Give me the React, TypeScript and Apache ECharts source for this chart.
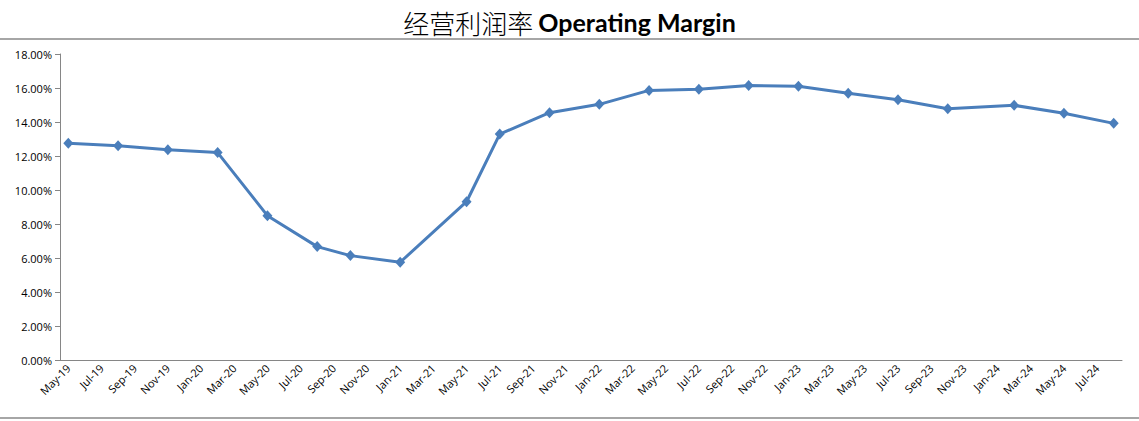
import React, { useEffect, useRef } from "react";
import * as echarts from "echarts";

const tickLabels = [
  "May-19", "Jul-19", "Sep-19", "Nov-19", "Jan-20", "Mar-20", "May-20", "Jul-20",
  "Sep-20", "Nov-20", "Jan-21", "Mar-21", "May-21", "Jul-21", "Sep-21", "Nov-21",
  "Jan-22", "Mar-22", "May-22", "Jul-22", "Sep-22", "Nov-22", "Jan-23", "Mar-23",
  "May-23", "Jul-23", "Sep-23", "Nov-23", "Jan-24", "Mar-24", "May-24", "Jul-24",
];

const pointDates = [
  "2019-05", "2019-08", "2019-11", "2020-02", "2020-05", "2020-08", "2020-10", "2021-01",
  "2021-05", "2021-07", "2021-10", "2022-01", "2022-04", "2022-07", "2022-10", "2023-01",
  "2023-04", "2023-07", "2023-10", "2024-02", "2024-05", "2024-08",
];

const marginValues = [
  12.75, 12.6, 12.37, 12.2, 8.49, 6.67, 6.14, 5.75,
  9.31, 13.29, 14.55, 15.04, 15.86, 15.92, 16.14, 16.1,
  15.69, 15.31, 14.78, 14.98, 14.51, 13.92,
];

const yTicks = { min: 0, max: 18, interval: 2 };

export default function App() {
  const ref = useRef<HTMLDivElement>(null);
  useEffect(() => {
    if (!ref.current) return;
    const chart = echarts.init(ref.current, null, { renderer: "svg" });
    // monthly slots, two per tick label
    const categories: string[] = [];
    tickLabels.forEach((l) => {
      categories.push(l);
      categories.push("");
    });
    const data: (number | null)[] = categories.map(() => null);
    pointDates.forEach((d, i) => {
      const [y, m] = d.split("-").map(Number);
      const idx = (y - 2019) * 12 + (m - 5);
      data[idx] = marginValues[i];
    });
    chart.setOption({
      animation: false,
      title: {
        text: "{cn|经营利润率} {en|Operating Margin}",
        left: "center",
        top: 4,
        textStyle: {
          rich: {
            cn: { fontFamily: "Noto Sans CJK SC", fontSize: 26, fontWeight: 300, color: "#000" },
            en: { fontFamily: "Lato", fontSize: 25, fontWeight: "bold", color: "#000" },
          },
        },
      },
      grid: { left: 60, right: 17, top: 54, bottom: 61, containLabel: false },
      xAxis: {
        type: "category",
        data: categories,
        boundaryGap: true,
        axisLine: { lineStyle: { color: "#868686", width: 1 } },
        axisTick: {
          interval: (i: number) => i % 2 === 0,
          length: 5,
          lineStyle: { color: "#868686" },
        },
        axisLabel: {
          interval: 0,
          rotate: 45,
          fontSize: 11,
          fontFamily: "Open Sans",
          color: "#000",
          margin: 6,
        },
        splitLine: { show: false },
      },
      yAxis: {
        type: "value",
        min: yTicks.min,
        max: yTicks.max,
        interval: yTicks.interval,
        axisLine: { show: true, lineStyle: { color: "#868686", width: 1 } },
        axisTick: { show: true, length: 5, lineStyle: { color: "#868686" } },
        axisLabel: {
          formatter: (v: number) => v.toFixed(2) + "%",
          fontSize: 11,
          fontFamily: "Open Sans",
          color: "#000",
          margin: 8,
        },
        splitLine: { show: false },
      },
      graphic: [
        { type: "line", shape: { x1: 0, y1: 39, x2: 1139, y2: 39 }, style: { stroke: "#888", lineWidth: 1.5 } },
        { type: "line", shape: { x1: 0, y1: 418, x2: 1139, y2: 418 }, style: { stroke: "#888", lineWidth: 1.5 } },
      ],
      series: [
        {
          type: "line",
          data,
          connectNulls: true,
          symbol: "diamond",
          symbolSize: [10, 11],
          lineStyle: { color: "#4A7EBB", width: 3 },
          itemStyle: { color: "#4A7EBB" },
        },
      ],
    });
    return () => chart.dispose();
  }, []);
  return (
    <div
      ref={ref}
      style={{ position: "fixed", left: 0, top: 0, width: 1139, height: 421, background: "#fff" }}
    />
  );
}
